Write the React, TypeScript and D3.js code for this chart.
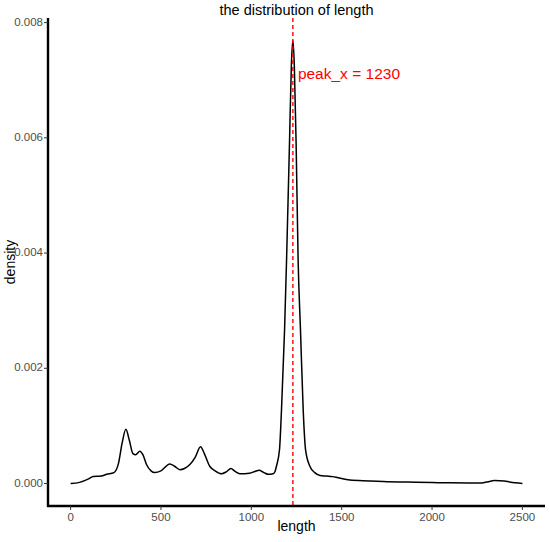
import * as d3 from 'd3'

// density curve (x = length, y = density)
const lengths = [
  0, 50, 100, 125, 170, 200, 240, 265, 285, 306, 325, 345, 360, 383, 400, 420, 445, 466,
  500, 549, 575, 605, 630, 660, 690, 719, 740, 770, 800, 835, 860, 887, 910, 936, 990,
  1020, 1043, 1070, 1095, 1120, 1130, 1139, 1156, 1167, 1184, 1195, 1211, 1222, 1230,
  1238, 1248, 1259, 1272, 1287, 1300, 1324, 1351, 1380, 1416, 1450, 1480, 1545, 1650,
  1729, 1914, 2000, 2098, 2200, 2264, 2300, 2347, 2400, 2430, 2500
]
const densities = [
  0.00000, 0.00002, 0.00008, 0.00012, 0.00013, 0.00016, 0.00019, 0.00035, 0.00070, 0.00094,
  0.00075, 0.00052, 0.00050, 0.00056, 0.00050, 0.00033, 0.00022, 0.00019,
  0.00022, 0.00034, 0.00030, 0.00024, 0.00026, 0.00033, 0.00046, 0.00064, 0.00052, 0.00030,
  0.00022, 0.00017, 0.00020, 0.00026, 0.00021, 0.00017, 0.00018,
  0.00021, 0.00023, 0.00019, 0.00016, 0.00017, 0.00020, 0.00030, 0.00059, 0.00128, 0.00267,
  0.00388, 0.00588, 0.00730, 0.00769,
  0.00725, 0.00588, 0.00388, 0.00267, 0.00128, 0.00059, 0.00030, 0.00019, 0.00014, 0.00013,
  0.00012, 0.00010, 0.00006, 0.000045,
  0.000035, 0.000023, 0.000018, 0.000012, 0.00001, 0.00001, 0.000025, 0.000052, 0.000045,
  0.000025, 0.00000
]
const xTicks = [0, 500, 1000, 1500, 2000, 2500]
const yTicks = [0, 0.002, 0.004, 0.006, 0.008]
const peakX = 1230
const labelY = 0.0071

const W = 550, H = 542
const panel = { left: 48, right: 545, top: 18, bottom: 506 }
const font = '"Liberation Sans", Arial, sans-serif'

export default function App() {
  const data = lengths.map((l, i) => ({ x: l, y: densities[i] }))

  const x = d3.scaleLinear().domain([-125, 2625]).range([panel.left, panel.right])
  const y = d3.scaleLinear().domain([-0.00039, 0.00808]).range([panel.bottom, panel.top])

  const line = d3.line<{ x: number; y: number }>()
    .x(d => x(d.x)).y(d => y(d.y)).curve(d3.curveMonotoneX)

  const midX = (panel.left + panel.right) / 2
  const midY = (panel.top + panel.bottom) / 2

  return (
    <svg width={W} height={H} style={{ position: 'absolute', left: 0, top: 0, background: '#fff' }}
      fontFamily={font}>
      <text x={midX} y={15} textAnchor="middle" fontSize={14.5} fill="#000">the distribution of length</text>

      <path d={line(data) ?? ''} fill="none" stroke="#000" strokeWidth={1.5} />

      <line x1={x(peakX)} x2={x(peakX)} y1={panel.top} y2={panel.bottom}
        stroke="#ff0000" strokeWidth={1.4} strokeDasharray="4,3" />
      <text x={x(peakX) + 5} y={y(labelY)} dominantBaseline="middle" fontSize={15.5} fill="#ff0000">
        peak_x = {peakX}
      </text>

      {/* axes */}
      <line x1={panel.left} x2={panel.left} y1={panel.top} y2={panel.bottom + 1} stroke="#000" strokeWidth={2.4} />
      <line x1={panel.left - 1} x2={panel.right} y1={panel.bottom} y2={panel.bottom} stroke="#000" strokeWidth={2.4} />

      {yTicks.map(t => (
        <g key={t}>
          <line x1={panel.left - 4} x2={panel.left} y1={y(t)} y2={y(t)} stroke="#333" strokeWidth={1} />
          <text x={panel.left - 5} y={y(t)} textAnchor="end" dominantBaseline="middle" fontSize={11.5} fill="#4d4d4d">
            {d3.format('.3f')(t)}
          </text>
        </g>
      ))}
      {xTicks.map(t => (
        <g key={t}>
          <line x1={x(t)} x2={x(t)} y1={panel.bottom} y2={panel.bottom + 4} stroke="#333" strokeWidth={1} />
          <text x={x(t)} y={panel.bottom + 15} textAnchor="middle" fontSize={11.5} fill="#4d4d4d">{t}</text>
        </g>
      ))}

      <text x={midX} y={531} textAnchor="middle" fontSize={14} fill="#000">length</text>
      <text transform={`translate(15,${midY}) rotate(-90)`} textAnchor="middle" fontSize={14} fill="#000">density</text>
    </svg>
  )
}
